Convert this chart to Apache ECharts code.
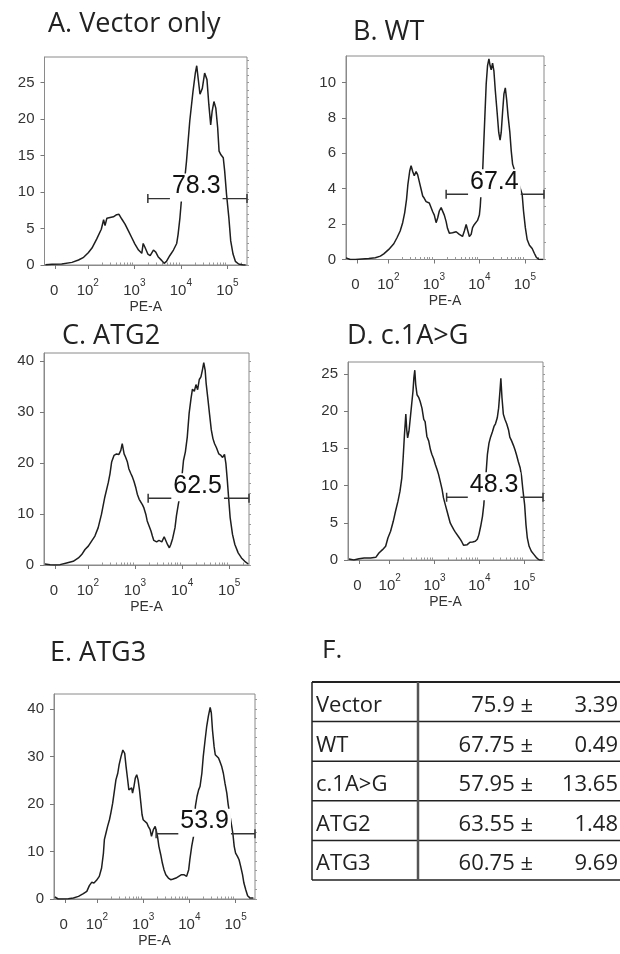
<!DOCTYPE html>
<html><head><meta charset="utf-8">
<script src="https://cdn.jsdelivr.net/npm/echarts@6/dist/echarts.min.js"></script>
<style>html,body{margin:0;padding:0;background:#fff}#c{width:620px;height:954px}</style>
</head><body><div id="c"></div>
<script>
// ---- DATA (PE-A position in decades of the display axis, event count) ----
const histA = [[1.09,0.05],[1.23,0.1],[1.44,0.14],[1.66,0.36],[1.80,0.68],[1.91,1.05],[2.01,1.68],[2.09,2.32],[2.19,3.55],[2.29,4.9],[2.34,6.2],[2.37,5.4],[2.41,6.4],[2.48,6.5],[2.55,6.6],[2.62,6.9],[2.67,6.95],[2.73,6.3],[2.80,5.6],[2.87,4.7],[2.94,3.8],[3.01,2.9],[3.09,2.05],[3.16,1.6],[3.19,2.95],[3.23,2.4],[3.29,1.5],[3.34,1.3],[3.41,2.05],[3.46,1.77],[3.51,1.14],[3.59,0.6],[3.64,0.23],[3.69,0.5],[3.76,1.27],[3.84,2.05],[3.91,2.95],[3.94,4.2],[3.98,6.5],[4.01,8.8],[4.07,11.0],[4.12,14.2],[4.19,19.7],[4.26,23.8],[4.31,26.3],[4.34,27.3],[4.37,25.6],[4.41,23.4],[4.46,24.2],[4.51,26.3],[4.56,25.4],[4.60,22.0],[4.64,19.2],[4.67,21.0],[4.71,22.4],[4.75,21.5],[4.79,18.8],[4.82,15.6],[4.86,15.1],[4.91,14.7],[4.94,12.9],[4.98,9.7],[5.03,6.5],[5.07,3.3],[5.12,1.5],[5.17,0.5],[5.24,0.14],[5.34,0],[5.39,0]];
const histB = [[1.07,0.09],[1.165,0],[1.275,0],[1.42,0.03],[1.57,0.06],[1.715,0.1],[1.825,0.19],[1.90,0.32],[2.01,0.57],[2.12,0.89],[2.19,1.23],[2.26,1.61],[2.315,2.08],[2.36,2.65],[2.40,3.40],[2.43,4.25],[2.47,5.0],[2.50,5.3],[2.535,4.97],[2.57,4.73],[2.61,4.97],[2.645,4.78],[2.68,4.40],[2.72,3.97],[2.755,3.59],[2.79,3.46],[2.83,3.27],[2.865,3.38],[2.90,3.19],[2.94,3.08],[2.975,2.70],[3.01,2.51],[3.05,2.08],[3.085,2.36],[3.12,2.74],[3.16,2.93],[3.195,2.82],[3.23,2.51],[3.27,2.14],[3.30,1.76],[3.34,1.49],[3.38,1.44],[3.41,1.51],[3.45,1.42],[3.49,1.57],[3.52,1.46],[3.56,1.42],[3.60,1.51],[3.63,1.30],[3.67,1.61],[3.71,1.98],[3.74,1.68],[3.78,1.30],[3.82,1.42],[3.85,1.80],[3.89,1.98],[3.93,2.02],[3.96,2.21],[4.00,2.51],[4.02,3.02],[4.04,3.88],[4.07,4.82],[4.09,6.14],[4.12,8.03],[4.15,9.92],[4.18,10.96],[4.21,11.34],[4.235,10.96],[4.26,10.72],[4.29,11.1],[4.32,10.64],[4.35,9.55],[4.39,8.32],[4.425,7.18],[4.455,6.75],[4.48,7.18],[4.51,8.32],[4.54,9.36],[4.57,9.70],[4.60,9.02],[4.63,8.13],[4.67,7.18],[4.70,6.14],[4.73,5.39],[4.94,3.69],[4.97,2.74],[5.01,1.80],[5.05,1.13],[5.10,0.81],[5.16,0.62],[5.21,0.34],[5.25,0.13],[5.30,0.02],[5.40,0]];
const histC = [[1.09,0.2],[1.20,0.07],[1.30,0],[1.41,0.07],[1.55,0.40],[1.69,0.73],[1.80,1.39],[1.87,2.05],[1.94,3.04],[2.01,3.70],[2.08,4.69],[2.15,5.68],[2.22,7.33],[2.29,9.97],[2.36,13.3],[2.435,16.2],[2.47,17.9],[2.505,20.2],[2.555,21.5],[2.61,21.8],[2.66,21.7],[2.70,22.5],[2.73,23.8],[2.77,21.8],[2.80,21.2],[2.84,20.2],[2.87,18.9],[2.91,18.0],[2.94,17.4],[2.98,16.4],[3.02,15.1],[3.05,13.9],[3.09,12.9],[3.12,12.6],[3.16,11.8],[3.19,11.2],[3.23,9.97],[3.26,8.65],[3.30,7.66],[3.34,6.67],[3.37,5.68],[3.40,4.82],[3.46,4.55],[3.51,4.82],[3.57,4.55],[3.62,5.54],[3.66,5.21],[3.69,4.03],[3.73,3.37],[3.76,4.03],[3.80,5.21],[3.85,7.33],[3.88,9.64],[3.92,11.9],[3.96,13.9],[4.03,20.5],[4.07,22.2],[4.11,25.1],[4.15,29.8],[4.19,32.7],[4.22,34.5],[4.26,34.1],[4.295,35.4],[4.33,34.4],[4.365,36.4],[4.40,36.9],[4.43,38.2],[4.46,39.7],[4.49,38.2],[4.51,35.7],[4.55,32.4],[4.585,29.4],[4.62,26.5],[4.655,24.8],[4.69,23.8],[4.73,23.0],[4.78,21.8],[4.825,21.5],[4.86,21.1],[4.90,21.7],[4.93,19.9],[4.96,16.6],[4.99,12.9],[5.02,9.3],[5.07,6.0],[5.12,4.03],[5.19,2.38],[5.26,1.39],[5.33,0.73],[5.405,0.2]];
const histD = [[1.09,0.13],[1.20,0],[1.315,0.18],[1.43,0.27],[1.575,0.27],[1.69,0.36],[1.76,0.94],[1.84,1.39],[1.91,1.84],[1.96,2.96],[2.02,3.86],[2.08,5.2],[2.13,6.55],[2.185,7.9],[2.23,9.24],[2.27,11.0],[2.30,13.7],[2.33,16.9],[2.36,19.6],[2.38,17.5],[2.40,16.4],[2.43,17.3],[2.46,19.1],[2.49,20.9],[2.52,22.7],[2.54,24.5],[2.56,25.5],[2.58,23.6],[2.61,22.2],[2.65,21.8],[2.68,21.3],[2.72,20.4],[2.76,18.9],[2.79,18.6],[2.83,16.6],[2.87,16.0],[2.91,14.8],[2.94,14.2],[2.98,13.6],[3.02,12.8],[3.055,12.2],[3.09,11.5],[3.13,10.5],[3.17,9.46],[3.20,8.34],[3.24,7.44],[3.28,6.55],[3.32,5.65],[3.35,4.98],[3.39,4.53],[3.43,4.08],[3.46,3.77],[3.50,3.54],[3.54,3.09],[3.58,2.74],[3.61,2.42],[3.65,1.97],[3.69,1.79],[3.73,2.06],[3.79,2.38],[3.85,2.42],[3.91,2.51],[3.955,2.78],[3.99,3.41],[4.03,4.53],[4.07,5.87],[4.10,7.44],[4.18,14.2],[4.215,15.7],[4.25,16.5],[4.29,17.2],[4.33,18.0],[4.36,18.3],[4.40,19.1],[4.43,20.4],[4.46,22.7],[4.48,24.4],[4.505,21.8],[4.535,19.6],[4.57,18.9],[4.61,18.3],[4.65,17.5],[4.68,16.5],[4.72,16.0],[4.76,15.4],[4.795,14.8],[4.83,14.1],[4.87,13.2],[4.91,12.4],[4.94,11.3],[4.97,9.5],[5.01,7.44],[5.04,4.75],[5.07,2.96],[5.11,1.84],[5.16,1.17],[5.22,0.72],[5.28,0.27],[5.34,0],[5.41,0]];
const histE = [[1.09,0.42],[1.16,0],[1.27,0],[1.38,0.05],[1.49,0.21],[1.60,0.56],[1.705,1.12],[1.78,1.61],[1.835,2.81],[1.885,3.51],[1.935,3.37],[1.99,3.93],[2.05,4.77],[2.10,6.53],[2.14,9.68],[2.16,12.5],[2.195,13.9],[2.23,15.3],[2.27,16.7],[2.30,18.1],[2.34,20.2],[2.38,23.0],[2.41,25.1],[2.45,26.5],[2.48,28.3],[2.52,30.0],[2.56,31.4],[2.58,31.8],[2.60,30.7],[2.63,27.9],[2.66,25.5],[2.69,23.0],[2.715,22.7],[2.75,23.4],[2.77,22.3],[2.80,23.7],[2.83,25.5],[2.86,26.2],[2.89,25.1],[2.92,23.0],[2.95,20.2],[2.975,17.8],[3.00,16.7],[3.04,16.4],[3.08,16.0],[3.11,15.3],[3.15,14.6],[3.18,13.2],[3.22,14.6],[3.26,15.3],[3.28,14.5],[3.31,13.2],[3.34,11.1],[3.38,9.33],[3.415,7.58],[3.45,6.18],[3.49,5.12],[3.545,4.42],[3.595,4.07],[3.65,4.21],[3.71,4.42],[3.77,4.77],[3.83,5.12],[3.88,5.12],[3.94,4.77],[3.985,6.18],[4.01,8.28],[4.05,11.1],[4.09,13.2],[4.13,19.5],[4.165,21.6],[4.20,23.0],[4.23,23.7],[4.27,26.5],[4.30,30.0],[4.34,33.5],[4.375,36.4],[4.41,38.5],[4.45,40.4],[4.475,39.2],[4.50,35.6],[4.535,32.1],[4.56,30.4],[4.59,30.0],[4.63,29.7],[4.66,29.0],[4.70,27.9],[4.735,26.5],[4.77,24.4],[4.81,22.3],[4.84,19.9],[4.94,13.9],[4.97,11.1],[5.00,9.68],[5.04,8.98],[5.075,8.28],[5.11,6.88],[5.15,5.12],[5.18,3.37],[5.22,1.96],[5.26,0.70],[5.31,0.21],[5.385,0.21]];

const panelTitles = ['A. Vector only', 'B. WT', 'C. ATG2', 'D. c.1A>G', 'E. ATG3'];
const gatePct = ['78.3', '67.4', '62.5', '48.3', '53.9'];
const gateStart = [3.29, 3.27, 3.28, 3.27, 3.28];
const gateLevel = [9.1, 3.69, 13.1, 8.43, 13.75];
const yMax = [28.5, 11.5, 41.6, 26.6, 43.2];
const yTicks = [[0,5,10,15,20,25],[0,2,4,6,8,10],[0,10,20,30,40],[0,5,10,15,20,25],[0,10,20,30,40]];
const yMinorStep = [1, 1, 2, 1, 2];
const xTickPos = [1.31, 2, 3, 4, 5];
const xTickLabels = ['0', '10^2', '10^3', '10^4', '10^5'];
const xMin = 1.07, xMax = 5.42;
const xAxisName = 'PE-A';

const tableTitle = 'F.';
const tableRows = ['Vector', 'WT', 'c.1A>G', 'ATG2', 'ATG3'];
const tableMeans = [75.9, 67.75, 57.95, 63.55, 60.75];
const tableSD = [3.39, 0.49, 13.65, 1.48, 9.69];

// ---- LAYOUT / STYLE ----
const hists = [histA, histB, histC, histD, histE];
const layout = [
  {left: 44.5, top: 57, width: 202.5, height: 208, tx: 48, ty: 24},
  {left: 346, top: 56, width: 198, height: 203.5, tx: 353, ty: 32},
  {left: 44, top: 353, width: 205, height: 212, tx: 62, ty: 336},
  {left: 348, top: 362, width: 195, height: 198, tx: 347, ty: 336},
  {left: 54, top: 694, width: 201, height: 205, tx: 50, ty: 653}
];
const AX = '#8a8a8a', TXT = '#333', CURVE = '#1e1e1e';
const labelFont = 'Liberation Sans';
const titleFont = 'Open Sans';
const gateLabelX = 4.33;

const xMinor = [];
for (let n = 2; n <= 5; n++) for (let k = 2; k <= 9; k++) {
  const v = Math.log10(k) + n; if (v < xMax) xMinor.push(v);
}

function xFmt(v) {
  const i = xTickPos.findIndex(p => Math.abs(p - v) < 1e-6);
  const t = i >= 0 ? xTickLabels[i] : '';
  if (t.indexOf('^') >= 0) { const [b, e] = t.split('^'); return '{b|' + b + '}{s|' + e + '}'; }
  return '{b|' + t + '}{s| }';
}

const grid = [], xAxis = [], yAxis = [], series = [], graphic = [];
layout.forEach((L, i) => {
  grid.push({left: L.left, top: L.top, width: L.width, height: L.height, show: true,
    borderColor: AX, borderWidth: 1, backgroundColor: '#fff'});
  xAxis.push({gridIndex: i, type: 'value', min: xMin, max: xMax,
    axisLine: {lineStyle: {color: AX, width: 1}},
    axisTick: {customValues: xTickPos, length: 4, lineStyle: {color: '#777'}},
    axisLabel: {customValues: xTickPos, margin: 13, formatter: xFmt,
      rich: {
        b: {fontSize: 15, fontFamily: labelFont, color: TXT, verticalAlign: 'bottom'},
        s: {fontSize: 10, fontFamily: labelFont, color: TXT, verticalAlign: 'top', padding: [0, 0, 10, 0]}
      }},
    splitLine: {show: false},
    name: xAxisName, nameLocation: 'middle', nameGap: 35,
    nameTextStyle: {fontSize: 14, fontFamily: labelFont, color: TXT}});
  xAxis.push({gridIndex: i, type: 'value', min: xMin, max: xMax,
    axisLine: {show: false},
    axisTick: {customValues: xMinor, length: 2.5, lineStyle: {color: '#999'}},
    axisLabel: {show: false}, splitLine: {show: false}});
  const yMinor = [];
  for (let v = 0; v <= yMax[i]; v += yMinorStep[i]) yMinor.push(v);
  yAxis.push({gridIndex: i, type: 'value', min: 0, max: yMax[i],
    axisLine: {show: true, lineStyle: {color: AX, width: 1}},
    axisTick: {show: true, customValues: yTicks[i], length: 4, lineStyle: {color: '#777'}},
    axisLabel: {customValues: yTicks[i], margin: 10, fontSize: 15, fontFamily: labelFont, color: TXT},
    splitLine: {show: false}});
  yAxis.push({gridIndex: i, type: 'value', min: 0, max: yMax[i],
    axisLine: {show: false},
    axisTick: {show: true, customValues: yMinor, length: 2, lineStyle: {color: '#999'}},
    axisLabel: {show: false}, splitLine: {show: false}});

  series.push({type: 'line', xAxisIndex: 2 * i, yAxisIndex: 2 * i, data: hists[i],
    symbol: 'none', smooth: false, lineStyle: {color: CURVE, width: 1.5}, z: 2, silent: true});
  series.push({type: 'line', xAxisIndex: 2 * i, yAxisIndex: 2 * i,
    data: [[gateStart[i], gateLevel[i]], [xMax, gateLevel[i]]],
    symbol: 'rect', symbolSize: [1.5, 9], showSymbol: true,
    itemStyle: {color: '#333'}, lineStyle: {color: '#333', width: 1.4}, z: 3, silent: true});
  series.push({type: 'custom', xAxisIndex: 2 * i, yAxisIndex: 2 * i,
    data: [[gateLabelX, gateLevel[i]]], z: 5, silent: true,
    renderItem: (params, api) => {
      const p = api.coord([api.value(0), api.value(1)]);
      return {type: 'text', x: p[0], y: p[1] + 3, z2: 10,
        style: {text: gatePct[i], fontSize: 25, fontFamily: labelFont, fill: '#111',
          backgroundColor: '#fff', padding: [0, 2, 3, 2], align: 'center', verticalAlign: 'bottom'}};
    }});

  graphic.push({type: 'text', x: L.tx, y: L.ty,
    style: {text: panelTitles[i], font: '27px "' + titleFont + '"', fill: '#222', verticalAlign: 'middle'}});
});

// table F
graphic.push({type: 'text', x: 322, y: 651,
  style: {text: tableTitle, font: '26px "' + titleFont + '"', fill: '#222', verticalAlign: 'middle'}});
const tTop = 682, rowH = 39.6, tLeft = 312, tCol = 418, tRight = 622;
for (let r = 0; r <= tableRows.length; r++) {
  const y = tTop + r * rowH;
  graphic.push({type: 'line', shape: {x1: tLeft, y1: y, x2: tRight, y2: y},
    style: {stroke: '#222', lineWidth: r === 0 ? 2 : 1.5}});
}
graphic.push({type: 'line', shape: {x1: tLeft, y1: tTop, x2: tLeft, y2: tTop + rowH * tableRows.length},
  style: {stroke: '#222', lineWidth: 1.5}});
graphic.push({type: 'line', shape: {x1: tCol, y1: tTop, x2: tCol, y2: tTop + rowH * tableRows.length},
  style: {stroke: '#555', lineWidth: 2.5}});
tableRows.forEach((name, r) => {
  const cy = tTop + r * rowH + rowH / 2 + 4;
  const f = '22px "' + titleFont + '"';
  graphic.push({type: 'text', x: 316, y: cy, style: {text: name, font: f, fill: '#222', verticalAlign: 'middle'}});
  graphic.push({type: 'text', x: 533, y: cy, style: {text: String(tableMeans[r]) + ' ±', font: f, fill: '#222', align: 'right', verticalAlign: 'middle'}});
  graphic.push({type: 'text', x: 618, y: cy, style: {text: String(tableSD[r]), font: f, fill: '#222', align: 'right', verticalAlign: 'middle'}});
});

const chart = echarts.init(document.getElementById('c'), null, {renderer: 'canvas'});
chart.setOption({animation: false, backgroundColor: '#fff', grid, xAxis, yAxis, series, graphic});
</script></body></html>
